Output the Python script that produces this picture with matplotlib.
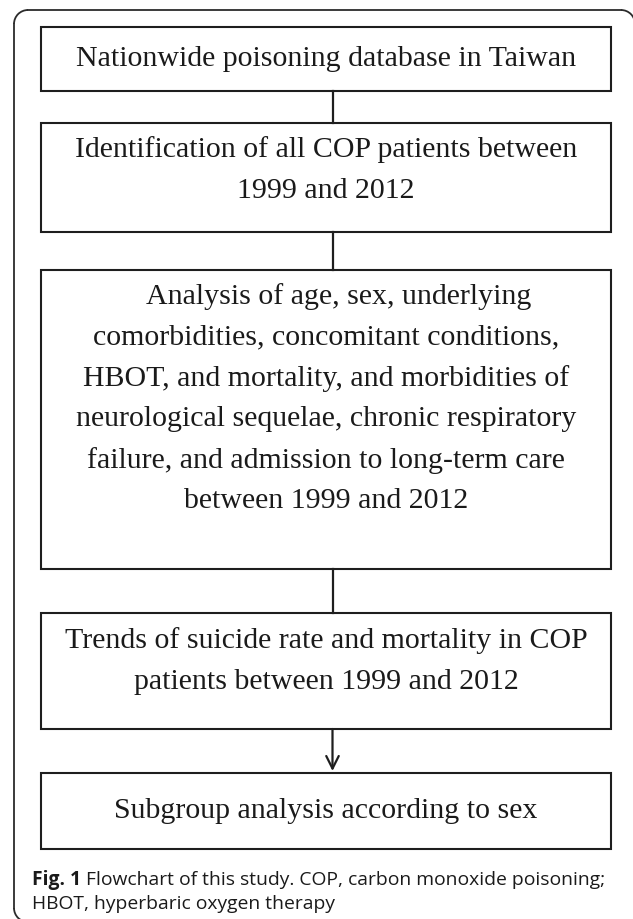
import matplotlib.pyplot as plt
from matplotlib.patches import Rectangle, Arc

# 流程图各框的文字（每行一项）
box_lines = [
    ["Nationwide poisoning database in Taiwan"],
    ["Identification of all COP patients between", "1999 and 2012"],
    ["Analysis of age, sex, underlying",
     "comorbidities, concomitant conditions,",
     "HBOT, and mortality, and morbidities of",
     "neurological sequelae, chronic respiratory",
     "failure, and admission to long-term care",
     "between 1999 and 2012"],
    ["Trends of suicide rate and mortality in COP",
     "patients between 1999 and 2012"],
    ["Subgroup analysis according to sex"],
]
# 框的上下边界（像素）
box_top = [27, 123, 270, 613, 773]
box_bottom = [91, 232, 569, 729, 849]
# 每框第一行文字的位置和行距
first_line_y = [59, 150, 297, 641, 811]
line_step = 40.8
# 连接方式：'line' 或 'arrow'
links = ["line", "line", "line", "arrow"]

caption_bold = "Fig. 1"
caption_rest = " Flowchart of this study. COP, carbon monoxide poisoning;"
caption_line2 = "HBOT, hyperbaric oxygen therapy"

W, H = 633, 919
fig = plt.figure(figsize=(W / 100, H / 100), dpi=100)
ax = fig.add_axes([0, 0, 1, 1])
ax.set_xlim(0, W)
ax.set_ylim(H, 0)
ax.axis('off')

# 外框（圆角，右侧和底部超出画面）
fl, ft, fr, fb, r = 14, 10, 635, 922, 14
fc = '#2b2b2b'
ax.plot([fl + r, fr - r], [ft, ft], color=fc, lw=1.3)
ax.plot([fl, fl], [ft + r, fb - r], color=fc, lw=1.3)
ax.add_patch(Arc((fl + r, ft + r), 2 * r, 2 * r, theta1=180, theta2=270, color=fc, lw=1.3))
ax.add_patch(Arc((fr - r, ft + r), 2 * r, 2 * r, theta1=270, theta2=360, color=fc, lw=1.3))
ax.add_patch(Arc((fl + r, fb - r), 2 * r, 2 * r, theta1=90, theta2=180, color=fc, lw=1.3))

x0, x1 = 41, 611
xc = (x0 + x1) / 2
serif = 'Liberation Serif'
for i, lines in enumerate(box_lines):
    ax.add_patch(Rectangle((x0, box_top[i]), x1 - x0, box_bottom[i] - box_top[i],
                           fill=False, ec='#1e1e1e', lw=1.5))
    for j, t in enumerate(lines):
        dx = 13 if (i == 2 and j == 0) else 0
        ax.text(xc + dx, first_line_y[i] + j * line_step, t, ha='center', va='center',
                fontsize=21.5, family=serif, color='#1a1a1a')

# 连接线 / 箭头
cx = 332.5
for i, kind in enumerate(links):
    if kind == "line":
        ax.plot([cx, cx], [box_bottom[i], box_top[i + 1]], color='#1e1e1e', lw=1.6)
    else:
        ax.annotate('', xy=(cx, box_top[i + 1] - 2), xytext=(cx, box_bottom[i]),
                    arrowprops=dict(arrowstyle='->,head_length=0.9,head_width=0.45',
                                    color='#1e1e1e', lw=1.6, shrinkA=0, shrinkB=0))

# 图注
cap_font = ['Open Sans', 'DejaVu Sans']
cap_size = 13.9
t1 = ax.text(32, 880, caption_bold, ha='left', va='center', fontsize=cap_size,
             family=cap_font, weight='bold', color='#1a1a1a')
fig.canvas.draw()
bb = t1.get_window_extent()
inv = ax.transData.inverted()
x_end = inv.transform((bb.x1, bb.y0))[0]
ax.text(x_end, 880, caption_rest, ha='left', va='center', fontsize=cap_size,
        family=cap_font, color='#1a1a1a')
ax.text(32, 904, caption_line2, ha='left', va='center', fontsize=cap_size,
        family=cap_font, color='#1a1a1a')

fig.savefig('out.png', dpi=100, facecolor='white')
